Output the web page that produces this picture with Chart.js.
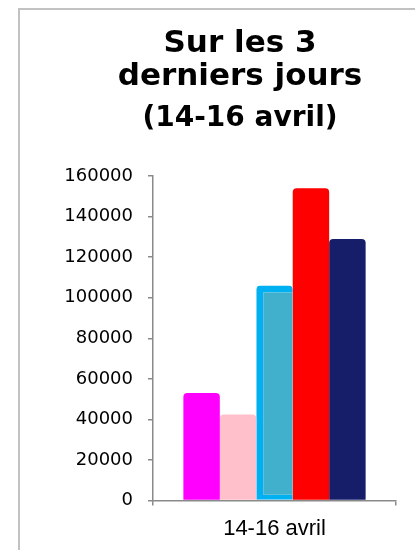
<!DOCTYPE html>
<html lang="fr">
<head>
  <meta charset="UTF-8" />
  <title>Sur les 3 derniers jours</title>
  <script src="https://cdn.jsdelivr.net/npm/chart.js"></script>
  <style>
    body {
      margin: 0;
      background: #fff;
      width: 415px;
      height: 550px;
      overflow: hidden;
      position: relative;
    }
    .frame {
      position: absolute;
      left: 18px;
      top: 8px;
      width: 440px;
      height: 560px;
      border: 2px solid #c2c2c2;
      background: #fff;
    }
  </style>
</head>
<body>

<div class="frame">
  <canvas id="chart" width="440" height="560"></canvas>
</div>

<script>
  const categories = ['14-16 avril'];
  const serie1 = [53000];
  const serie2 = [42500];
  const serie3 = [106000];
  const serie4 = [154000];
  const serie5 = [129000];
  const yTicks = [0, 20000, 40000, 60000, 80000, 100000, 120000, 140000, 160000];

  const axisGray = '#8a8a8a';
  const radius = { topLeft: 4, topRight: 4, bottomLeft: 0, bottomRight: 0 };

  new Chart(document.getElementById('chart'), {
    type: 'bar',
    data: {
      labels: categories,
      datasets: [
        { label: 'Série 1', data: serie1, backgroundColor: '#ff00ff', borderRadius: radius },
        { label: 'Série 2', data: serie2, backgroundColor: '#ffc0cb', borderRadius: radius },
        {
          label: 'Série 3', data: serie3, backgroundColor: '#41b0cc', borderColor: '#00b0f0',
          borderWidth: { left: 7, top: 7, right: 0, bottom: 5 }, borderSkipped: false, borderRadius: radius
        },
        { label: 'Série 4', data: serie4, backgroundColor: '#ff0000', borderRadius: radius },
        { label: 'Série 5', data: serie5, backgroundColor: '#161e6a', borderRadius: radius }
      ]
    },
    options: {
      responsive: false,
      animation: false,
      categoryPercentage: 0.75,
      barPercentage: 1.0,
      layout: { padding: { left: 46, right: 46, top: 0, bottom: 18 } },
      plugins: {
        legend: { display: false },
        tooltip: { enabled: false },
        title: {
          display: true,
          text: ['Sur les 3', 'derniers jours'],
          color: '#000',
          font: { family: 'DejaVu Sans', size: 31, weight: 'bold', lineHeight: '33px' },
          padding: { top: 17, bottom: 0 }
        },
        subtitle: {
          display: true,
          text: '(14-16 avril)',
          color: '#000',
          font: { family: 'DejaVu Sans', size: 28, weight: 'bold', lineHeight: '28px' },
          padding: { top: 12, bottom: 43 }
        }
      },
      scales: {
        x: {
          grid: { display: true, drawOnChartArea: false, offset: true, tickLength: 5, color: axisGray, lineWidth: 1.5 },
          border: { display: true, color: axisGray, width: 1.5 },
          ticks: { color: '#000', padding: 10, font: { family: 'Liberation Sans', size: 22 } }
        },
        y: {
          min: 0,
          max: 160000,
          afterBuildTicks: axis => { axis.ticks = yTicks.map(v => ({ value: v })); },
          grid: { display: true, drawOnChartArea: false, tickLength: 5, color: axisGray, lineWidth: 1.5 },
          border: { display: true, color: axisGray, width: 1.5 },
          ticks: {
            color: '#000',
            padding: 15,
            font: { family: 'DejaVu Sans', size: 18 },
            callback: v => String(v)
          }
        },
        // empty spacer on the right so the title sits off-centre like the original
        spacer: {
          type: 'linear',
          position: 'right',
          grid: { display: false },
          border: { display: false },
          ticks: { display: false },
          afterFit: axis => { axis.width = 18; }
        }
      }
    }
  });
</script>

</body>
</html>
